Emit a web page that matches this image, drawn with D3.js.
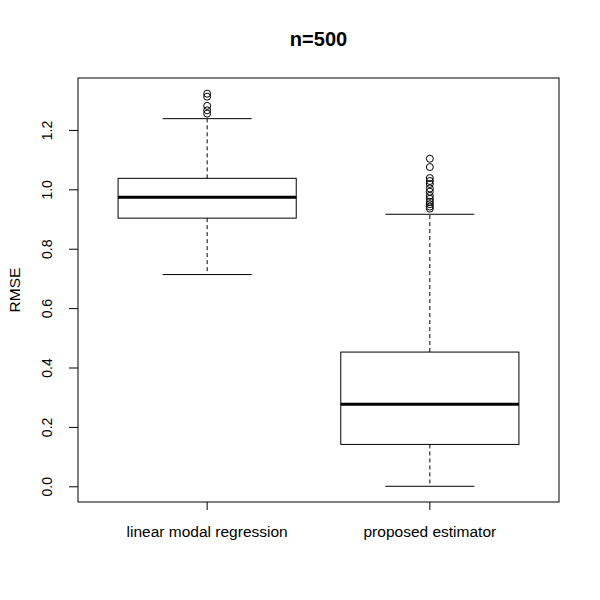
<!DOCTYPE html>
<html>
<head>
<meta charset="utf-8">
<script src="https://cdn.jsdelivr.net/npm/d3@7"></script>
<style>
  body { margin: 0; background: #fff; }
  text { font-family: "Liberation Sans", Arial, sans-serif; }
</style>
</head>
<body>
<svg id="chart" width="600" height="600"></svg>
<script>
    // data
    var groups = ['linear modal regression', 'proposed estimator'];
    var lowerWhisker = [0.713, 0.0];
    var q1 = [0.903, 0.141];
    var median = [0.973, 0.276];
    var q3 = [1.037, 0.452];
    var upperWhisker = [1.238, 0.916];
    var outliers = [
        [1.322, 1.312, 1.281, 1.266, 1.255],
        [1.103, 1.075, 1.038, 1.028, 1.018, 1.003, 0.992, 0.978, 0.968, 0.958, 0.950, 0.942, 0.935]
    ];
    var yTicks = [0, 0.2, 0.4, 0.6, 0.8, 1.0, 1.2];

    var svg = d3.select('#chart');
    // plot region ("top" is taken on window, so other names)
    var pLeft = 78, pRight = 559, pTop = 78, pBottom = 502;

    // R style 4% extension of ranges
    var x = d3.scaleLinear().domain([0.42, 2.58]).range([pLeft, pRight]);
    var ymax = 1.322, ext = ymax * 0.04;
    var y = d3.scaleLinear().domain([-ext, ymax + ext]).range([pBottom, pTop]);

    var bw = 0.4, cap = 0.2;

    var g = svg.append('g');
    groups.forEach(function(name, i) {
        var cx = x(i + 1);
        // whiskers
        g.append('line').attr('x1', cx).attr('x2', cx)
            .attr('y1', y(q3[i])).attr('y2', y(upperWhisker[i]))
            .attr('stroke', '#000').attr('stroke-dasharray', '4,3');
        g.append('line').attr('x1', cx).attr('x2', cx)
            .attr('y1', y(q1[i])).attr('y2', y(lowerWhisker[i]))
            .attr('stroke', '#000').attr('stroke-dasharray', '4,3');
        // caps
        [upperWhisker[i], lowerWhisker[i]].forEach(function(v) {
            g.append('line').attr('x1', x(i + 1 - cap)).attr('x2', x(i + 1 + cap))
                .attr('y1', y(v)).attr('y2', y(v)).attr('stroke', '#000');
        });
        // box
        g.append('rect').attr('x', x(i + 1 - bw)).attr('width', x(i + 1 + bw) - x(i + 1 - bw))
            .attr('y', y(q3[i])).attr('height', y(q1[i]) - y(q3[i]))
            .attr('fill', 'none').attr('stroke', '#000');
        // median
        g.append('line').attr('x1', x(i + 1 - bw)).attr('x2', x(i + 1 + bw))
            .attr('y1', y(median[i])).attr('y2', y(median[i]))
            .attr('stroke', '#000').attr('stroke-width', 3);
        // outliers
        g.selectAll(null).data(outliers[i]).enter().append('circle')
            .attr('cx', cx).attr('cy', function(d) { return y(d); })
            .attr('r', 3.5).attr('fill', 'none').attr('stroke', '#000');
    });

    // frame
    svg.append('rect').attr('x', pLeft).attr('y', pTop)
        .attr('width', pRight - pLeft).attr('height', pBottom - pTop)
        .attr('fill', 'none').attr('stroke', '#000');

    // y axis on the frame, labels turned
    var yAxis = d3.axisLeft(y).tickValues(yTicks).tickSize(9).tickFormat(d3.format('.1f'));
    var ya = svg.append('g').attr('transform', 'translate(' + pLeft + ',0)').call(yAxis);
    ya.select('.domain').remove();
    ya.selectAll('.tick line').attr('stroke', '#000');
    ya.selectAll('.tick text')
        .attr('font-size', 14).attr('fill', '#000')
        .attr('text-anchor', 'middle')
        .attr('x', null).attr('dy', null)
        .attr('transform', 'translate(-26,0) rotate(-90)');

    // x axis
    var xa = svg.append('g').attr('transform', 'translate(0,' + pBottom + ')');
    groups.forEach(function(name, i) {
        xa.append('line').attr('x1', x(i + 1)).attr('x2', x(i + 1))
            .attr('y1', 0).attr('y2', 8).attr('stroke', '#000');
        xa.append('text').attr('x', x(i + 1)).attr('y', 35)
            .attr('text-anchor', 'middle').attr('font-size', 15.5).text(name);
    });

    // title and y label
    svg.append('text').attr('x', (pLeft + pRight) / 2).attr('y', 46)
        .attr('text-anchor', 'middle').attr('font-size', 20).attr('font-weight', 'bold').text('n=500');
    svg.append('text').attr('transform', 'translate(20,' + ((pTop + pBottom) / 2) + ') rotate(-90)')
        .attr('text-anchor', 'middle').attr('font-size', 15.5).text('RMSE');
</script>
</body>
</html>
